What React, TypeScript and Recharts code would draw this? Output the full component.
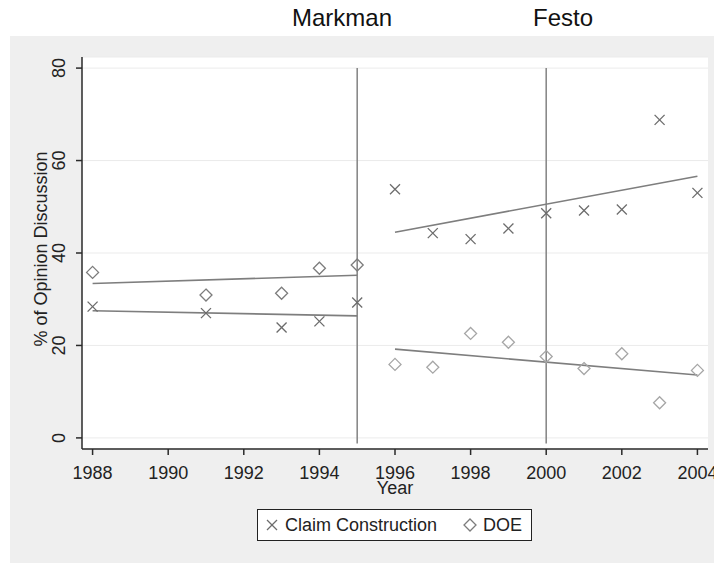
import React from "react";
import {
  ScatterChart,
  Scatter,
  XAxis,
  YAxis,
  CartesianGrid,
  ReferenceLine,
} from "recharts";

// observed shares per year
const years = [1988, 1991, 1993, 1994, 1995, 1996, 1997, 1998, 1999, 2000, 2001, 2002, 2003, 2004];
const claimConstruction = [28.4, 27.0, 23.9, 25.2, 29.3, 53.8, 44.3, 43.0, 45.3, 48.6, 49.2, 49.4, 68.8, 53.0];
const doe = [35.8, 30.9, 31.3, 36.7, 37.4, 15.9, 15.3, 22.6, 20.7, 17.6, 15.0, 18.2, 7.6, 14.6];

// fitted line endpoints
const fitYearsPre = [1988, 1995];
const ccFitPre = [27.5, 26.4];
const doeFitPre = [33.4, 35.2];
const fitYearsPost = [1996, 2004];
const ccFitPost = [44.5, 56.6];
const doeFitPost = [19.2, 13.6];

const xTicks = [1988, 1990, 1992, 1994, 1996, 1998, 2000, 2002, 2004];
const yTicks = [0, 20, 40, 60, 80];
const markmanYear = 1995;
const festoYear = 2000;

const FONT = "'Liberation Sans', Arial, sans-serif";

const toPoints = (xs: number[], ys: number[]) => xs.map((x, i) => ({ year: x, value: ys[i] }));

const ccData = toPoints(years, claimConstruction);
const doeData = toPoints(years, doe);

const CrossShape = (props: any) => {
  const { cx, cy } = props;
  const r = 5;
  return (
    <g stroke="#6c6c6c" strokeWidth={1.3}>
      <line x1={cx - r} y1={cy - r} x2={cx + r} y2={cy + r} />
      <line x1={cx - r} y1={cy + r} x2={cx + r} y2={cy - r} />
    </g>
  );
};

const DiamondShape = (props: any) => {
  const { cx, cy, payload } = props;
  const r = 6;
  const color = payload && payload.year > markmanYear ? "#a6a6a6" : "#7c7c7c";
  return (
    <path
      d={`M${cx},${cy - r}L${cx + r},${cy}L${cx},${cy + r}L${cx - r},${cy}Z`}
      fill="none"
      stroke={color}
      strokeWidth={1.3}
    />
  );
};

const NoShape = () => <g />;

const XTick = (props: any) => {
  const { x, y, payload } = props;
  return (
    <text x={x} y={y + 22} textAnchor="middle" fontSize={18} fill="#222" fontFamily={FONT}>
      {payload.value}
    </text>
  );
};

const YTick = (props: any) => {
  const { x, y, payload } = props;
  const bx = x - 9;
  return (
    <text
      x={bx}
      y={y}
      textAnchor="middle"
      fontSize={18}
      fill="#222"
      fontFamily={FONT}
      transform={`rotate(-90, ${bx}, ${y})`}
    >
      {payload.value}
    </text>
  );
};

const fitLine = { stroke: "#7e7e7e", strokeWidth: 1.6 };

export default function App() {
  return (
    <div
      style={{
        position: "absolute",
        left: 0,
        top: 0,
        width: 714,
        height: 564,
        background: "#ffffff",
        fontFamily: FONT,
        overflow: "hidden",
      }}
    >
      {/* grey graph region */}
      <div
        style={{
          position: "absolute",
          left: 10,
          top: 36,
          width: 704,
          height: 527,
          background: "#efefef",
        }}
      />

      <div style={{ position: "absolute", left: 0, top: 0 }}>
        <ScatterChart width={714} height={564} margin={{ top: 57, right: 6, bottom: 85, left: 0 }}>
          <CartesianGrid horizontal vertical={false} stroke="#ebebeb" fill="#ffffff" />
          <XAxis
            type="number"
            dataKey="year"
            domain={[1987.72, 2004.28]}
            ticks={xTicks}
            allowDataOverflow
            height={30}
            tick={<XTick />}
            tickSize={6}
            stroke="#2a2a2a"
            strokeWidth={1.5}
          />
          <YAxis
            type="number"
            dataKey="value"
            domain={[-2.4, 82.4]}
            ticks={yTicks}
            allowDataOverflow
            width={82}
            tick={<YTick />}
            tickSize={6}
            stroke="#2a2a2a"
            strokeWidth={1.5}
          />
          <ReferenceLine
            segment={[
              { x: markmanYear, y: 80 },
              { x: markmanYear, y: -1.2 },
            ]}
            stroke="#8a8a8a"
            strokeWidth={1.6}
            ifOverflow="visible"
          />
          <ReferenceLine
            segment={[
              { x: festoYear, y: 80 },
              { x: festoYear, y: -1.2 },
            ]}
            stroke="#8a8a8a"
            strokeWidth={1.6}
            ifOverflow="visible"
          />
          <Scatter data={toPoints(fitYearsPre, ccFitPre)} line={fitLine} shape={<NoShape />} isAnimationActive={false} />
          <Scatter data={toPoints(fitYearsPre, doeFitPre)} line={fitLine} shape={<NoShape />} isAnimationActive={false} />
          <Scatter data={toPoints(fitYearsPost, ccFitPost)} line={fitLine} shape={<NoShape />} isAnimationActive={false} />
          <Scatter data={toPoints(fitYearsPost, doeFitPost)} line={fitLine} shape={<NoShape />} isAnimationActive={false} />
          <Scatter name="Claim Construction" data={ccData} shape={<CrossShape />} isAnimationActive={false} />
          <Scatter name="DOE" data={doeData} shape={<DiamondShape />} isAnimationActive={false} />
        </ScatterChart>
      </div>

      {/* titles */}
      <svg
        width={714}
        height={564}
        style={{ position: "absolute", left: 0, top: 0, pointerEvents: "none" }}
      >
        <text x={292} y={26} fontSize={24} fill="#111" fontFamily={FONT}>
          Markman
        </text>
        <text x={533} y={26} fontSize={24} fill="#111" fontFamily={FONT}>
          Festo
        </text>
        <text x={395} y={494} textAnchor="middle" fontSize={18} fill="#222" fontFamily={FONT}>
          Year
        </text>
        <text
          x={46.5}
          y={249}
          textAnchor="middle"
          fontSize={18}
          fill="#222"
          fontFamily={FONT}
          transform="rotate(-90, 46.5, 249)"
        >
          % of Opinion Discussion
        </text>
      </svg>

      {/* legend */}
      <div
        style={{
          position: "absolute",
          left: 257,
          top: 509,
          width: 273,
          height: 30,
          border: "1.5px solid #222",
          background: "#ffffff",
          display: "flex",
          alignItems: "center",
          fontSize: 18,
          color: "#222",
          whiteSpace: "nowrap",
        }}
      >
        <svg width={14} height={14} style={{ marginLeft: 7, marginRight: 6 }}>
          <g stroke="#6c6c6c" strokeWidth={1.3}>
            <line x1={2} y1={2} x2={12} y2={12} />
            <line x1={2} y1={12} x2={12} y2={2} />
          </g>
        </svg>
        <span>Claim Construction</span>
        <svg width={14} height={14} style={{ marginLeft: 26, marginRight: 6 }}>
          <path d="M7,1L13,7L7,13L1,7Z" fill="none" stroke="#7c7c7c" strokeWidth={1.3} />
        </svg>
        <span>DOE</span>
      </div>
    </div>
  );
}
